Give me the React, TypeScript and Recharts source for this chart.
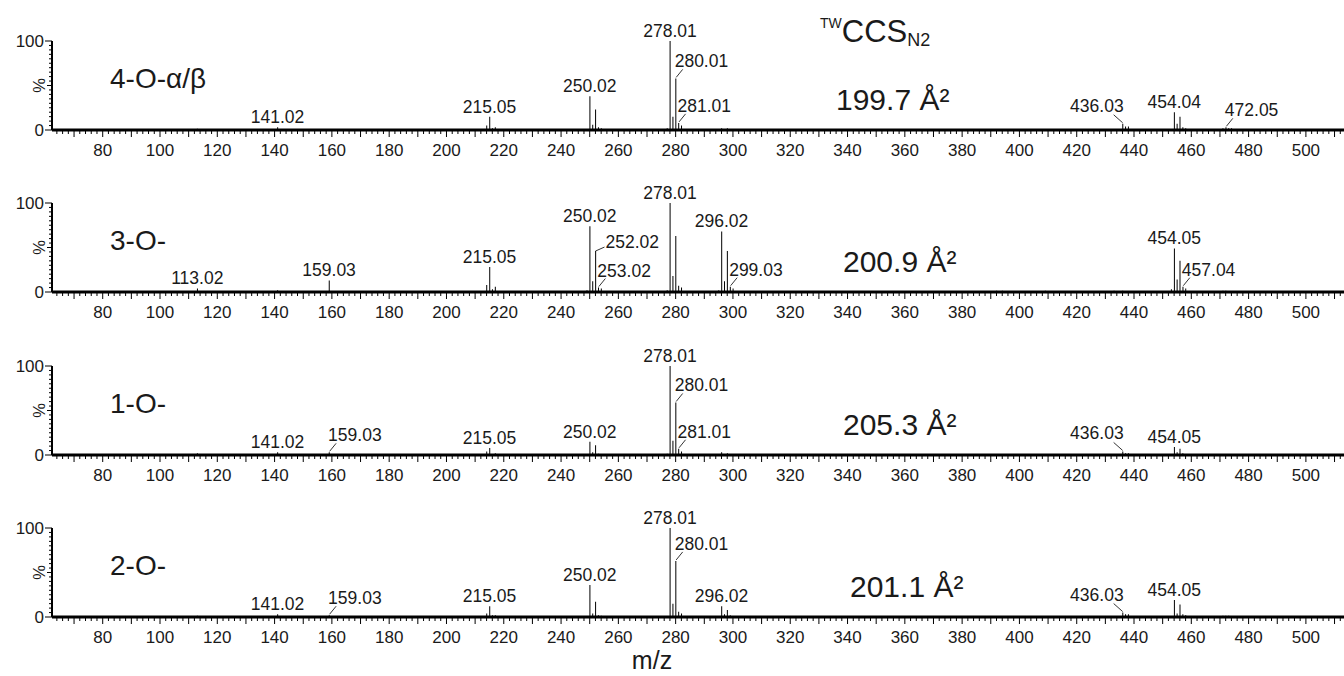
import { ComposedChart, Bar, Scatter, XAxis, YAxis } from 'recharts'

// ions per panel: [m/z, relative intensity %]
const peaks4O = [
  [113, 1.5], [141.02, 3], [214, 5], [215.05, 15], [216, 2], [217, 3],
  [250.02, 38], [251, 6], [252, 23], [253, 3], [254, 2],
  [277, 2], [278.01, 100], [279, 15], [280.01, 58], [281.01, 8], [282, 5],
  [296, 2], [298, 2], [436.03, 7], [437, 4], [438, 4],
  [454.04, 20], [455, 7], [456, 15], [457, 3], [458, 2],
  [471, 2], [472.05, 3], [473, 2], [474, 2],
]
const peaks3O = [
  [85, 1], [113.02, 4], [141, 2], [159.03, 13], [214, 8], [215.05, 28], [216, 3], [217, 6],
  [249, 2], [250.02, 74], [251, 12], [252.02, 46], [253.02, 5], [254, 4],
  [277, 2], [278.01, 100], [279, 18], [280, 63], [281, 7], [282, 5],
  [295, 2], [296.02, 68], [297, 12], [298, 46], [299.03, 6], [300, 4],
  [351, 1], [372, 1], [392, 1.5], [394, 1.5], [409, 1.5], [433, 1.5], [436, 1.5], [438, 1],
  [453, 3], [454.05, 49], [455, 14], [456, 35], [457.04, 6], [458, 4], [471, 1.5], [472, 1.5],
]
const peaks1O = [
  [85, 1], [113, 2], [141.02, 3], [159.03, 3], [214, 4], [215.05, 8], [217, 2],
  [250.02, 15], [251, 3], [252, 11], [253, 1.5], [254, 1],
  [277, 1.5], [278.01, 100], [279, 16], [280.01, 59], [281.01, 7], [282, 4],
  [296, 3], [298, 2], [362, 1], [390, 1], [408, 1], [410, 1],
  [436.03, 4], [437, 2], [438, 2], [454.05, 9], [455, 3], [456, 7], [457, 2],
]
const peaks2O = [
  [113, 1.5], [141.02, 3], [159.03, 2], [214, 4], [215.05, 12], [216, 2], [217, 2],
  [250.02, 36], [251, 4], [252, 17], [253, 2], [254, 1.5],
  [278.01, 100], [279, 15], [280.01, 63], [281, 6], [282, 4],
  [296.02, 12], [297, 3], [298, 8], [299, 2], [362, 1],
  [436.03, 5], [437, 3], [438, 3], [454.05, 19], [455, 4], [456, 14], [457, 3], [458, 2],
  [471, 1.5], [472, 1.5], [473, 1.5],
]

// annotated ions: [m/z, intensity, text, placement]
const labels4O = [
  [141.02, 3, '141.02', 'top'], [215.05, 15, '215.05', 'top'], [250.02, 38, '250.02', 'top'],
  [278.01, 100, '278.01', 'top'], [280.01, 58, '280.01', 'right'], [281.01, 8, '281.01', 'right'],
  [436.03, 7, '436.03', 'left'], [454.04, 20, '454.04', 'top'], [472.05, 3, '472.05', 'right'],
]
const labels3O = [
  [113.02, 4, '113.02', 'top'], [159.03, 13, '159.03', 'top'], [215.05, 28, '215.05', 'top'],
  [250.02, 74, '250.02', 'top'], [252.02, 46, '252.02', 'side'], [253.02, 5, '253.02', 'right'],
  [278.01, 100, '278.01', 'top'], [296.02, 68, '296.02', 'top'], [299.03, 6, '299.03', 'right'],
  [454.05, 49, '454.05', 'top'], [457.04, 6, '457.04', 'right'],
]
const labels1O = [
  [141.02, 3, '141.02', 'top'], [159.03, 3, '159.03', 'right'], [215.05, 8, '215.05', 'top'],
  [250.02, 15, '250.02', 'top'], [278.01, 100, '278.01', 'top'], [280.01, 59, '280.01', 'right'],
  [281.01, 7, '281.01', 'right'], [436.03, 4, '436.03', 'left'], [454.05, 9, '454.05', 'top'],
]
const labels2O = [
  [141.02, 3, '141.02', 'top'], [159.03, 2, '159.03', 'right'], [215.05, 12, '215.05', 'top'],
  [250.02, 36, '250.02', 'top'], [278.01, 100, '278.01', 'top'], [280.01, 63, '280.01', 'right'],
  [296.02, 12, '296.02', 'top'], [436.03, 5, '436.03', 'left'], [454.05, 19, '454.05', 'top'],
]

const panelNames = ['4-O-α/β', '3-O-', '1-O-', '2-O-']
const ccsValues = ['199.7 Å²', '200.9 Å²', '205.3 Å²', '201.1 Å²']
const xLabelTicks = [80, 100, 120, 140, 160, 180, 200, 220, 240, 260, 280, 300, 320, 340, 360, 380, 400, 420, 440, 460, 480, 500]
const yLabelTicks = [0, 100]

const allPeaks = [peaks4O, peaks3O, peaks1O, peaks2O]
const allLabels = [labels4O, labels3O, labels1O, labels2O]

const minorXTicks: number[] = []
for (let v = 64; v <= 512; v += 2) minorXTicks.push(v)
const minorYTicks: number[] = []
for (let v = 0; v <= 100; v += 5) minorYTicks.push(v)

const FONT = '"Liberation Sans", Arial, sans-serif'
const INK = '#1a1a1a'
const PANEL_TOP = [0, 162, 325, 487]
const ccsX = [836, 843, 843, 850]

const XTick = (props: any) => {
  const { x, y, payload } = props
  const v = payload.value
  const len = v % 10 === 0 ? 7 : 4
  return (
    <g>
      <line x1={x} y1={y} x2={x} y2={y + len} stroke="#000" strokeWidth={1} />
      {xLabelTicks.includes(v) && (
        <text x={x} y={y + 26} textAnchor="middle" fontSize={17} fontFamily={FONT} fill={INK}>
          {v}
        </text>
      )}
    </g>
  )
}

const YTick = (props: any) => {
  const { x, y, payload } = props
  const v = payload.value
  const len = v === 0 || v === 100 ? 7 : v === 50 ? 5 : 3
  return (
    <g>
      <line x1={x - len} y1={y} x2={x} y2={y} stroke="#000" strokeWidth={1} />
      {yLabelTicks.includes(v) && (
        <text x={x - 8} y={y} dy="0.36em" textAnchor="end" fontSize={17} fontFamily={FONT} fill={INK}>
          {v}
        </text>
      )}
      {v === 50 && (
        <text
          transform={`translate(${x - 13},${y}) rotate(-90)`}
          dy="0.36em"
          textAnchor="middle"
          fontSize={16.5}
          fontFamily={FONT}
          fill={INK}
        >
          %
        </text>
      )}
    </g>
  )
}

const PeakLabel = (props: any) => {
  const { cx, cy, payload } = props
  const txt = { fontSize: 17.5, fontFamily: FONT, fill: INK }
  if (payload.kind === 'top') {
    return <text x={cx} y={cy - 4} textAnchor="middle" {...txt}>{payload.text}</text>
  }
  if (payload.kind === 'left') {
    return (
      <g>
        <line x1={cx} y1={cy - 1} x2={cx - 9} y2={cy - 9} stroke="#000" strokeWidth={0.8} />
        <text x={cx + 1} y={cy - 12} textAnchor="end" {...txt}>{payload.text}</text>
      </g>
    )
  }
  if (payload.kind === 'side') {
    return (
      <g>
        <line x1={cx} y1={cy} x2={cx + 9} y2={cy - 4} stroke="#000" strokeWidth={0.8} />
        <text x={cx + 10} y={cy - 3} textAnchor="start" {...txt}>{payload.text}</text>
      </g>
    )
  }
  return (
    <g>
      <line x1={cx + 0.5} y1={cy - 1} x2={cx + 7} y2={cy - 9} stroke="#000" strokeWidth={0.8} />
      <text x={cx - 1} y={cy - 11} textAnchor="start" {...txt}>{payload.text}</text>
    </g>
  )
}

function SpectrumPanel({ index }: { index: number }) {
  const data = allPeaks[index].map(([mz, i]) => ({ mz, i }))
  const labels = allLabels[index].map(([mz, i, text, kind]) => ({ mz, i, text, kind }))
  return (
    <ComposedChart
      width={1344}
      height={163}
      data={data}
      margin={{ top: 41, right: 0, bottom: 0, left: 0 }}
    >
      <XAxis
        dataKey="mz"
        type="number"
        domain={[62.3, 513.3]}
        ticks={minorXTicks}
        interval={0}
        tickSize={0}
        tickMargin={0}
        tickLine={false}
        tick={<XTick />}
        height={33}
        axisLine={{ stroke: '#000', strokeWidth: 3 }}
      />
      <YAxis
        type="number"
        domain={[0, 100]}
        ticks={minorYTicks}
        interval={0}
        tickSize={0}
        tickMargin={0}
        tickLine={false}
        tick={<YTick />}
        width={52}
        axisLine={{ stroke: '#000', strokeWidth: 2 }}
      />
      <Bar dataKey="i" fill="#000" barSize={1} isAnimationActive={false} />
      <Scatter data={labels} dataKey="i" shape={PeakLabel} isAnimationActive={false} />
    </ComposedChart>
  )
}

export default function App() {
  return (
    <div style={{ position: 'absolute', left: 0, top: 0, width: 1344, height: 676, background: '#fff' }}>
      {PANEL_TOP.map((top, k) => (
        <div key={k} style={{ position: 'absolute', left: 0, top }}>
          <SpectrumPanel index={k} />
        </div>
      ))}
      <svg
        width={1344}
        height={676}
        style={{ position: 'absolute', left: 0, top: 0, pointerEvents: 'none' }}
        fontFamily={FONT}
        fill={INK}
      >
        {panelNames.map((name, k) => (
          <text key={name} x={110} y={PANEL_TOP[k] + 88} fontSize={28}>
            {name}
          </text>
        ))}
        {ccsValues.map((v, k) => (
          <text key={v} x={ccsX[k]} y={PANEL_TOP[k] + 110} fontSize={30}>
            {v}
          </text>
        ))}
        <text x={820} y={42}>
          <tspan fontSize={14} dy={-14}>TW</tspan>
          <tspan fontSize={31} dy={14}>CCS</tspan>
          <tspan fontSize={18} dy={4}>N2</tspan>
        </text>
        <text x={652} y={669} fontSize={25} textAnchor="middle">m/z</text>
      </svg>
    </div>
  )
}
